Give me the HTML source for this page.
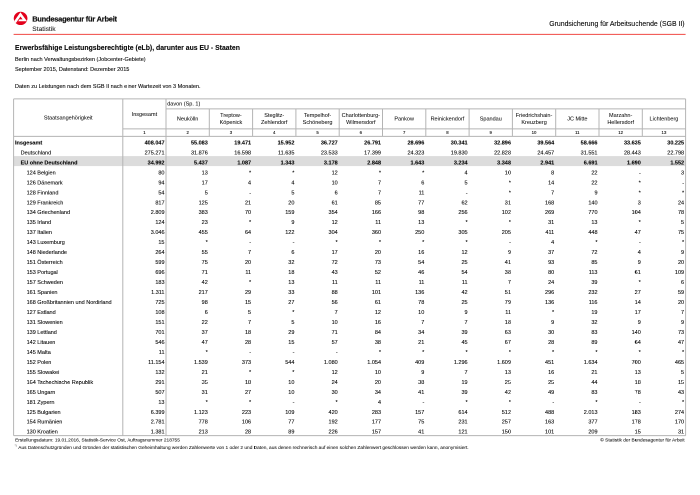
<!DOCTYPE html>
<html lang="de"><head><meta charset="utf-8"><title>Erwerbsfähige Leistungsberechtigte (eLb), darunter aus EU - Staaten</title>
<style>
html,body{margin:0;padding:0;background:#fff;}
body{width:700px;height:495px;position:relative;overflow:hidden;font-family:"Liberation Sans",Arial,sans-serif;color:#0a0a0a;-webkit-text-stroke:0.2px #000;}
.t{position:absolute;white-space:nowrap;line-height:1;margin:0;padding:0;}
.b{font-weight:bold;}
.r{text-align:right;}
.c{text-align:center;}
svg{position:absolute;left:0;top:0;}
#w{position:absolute;left:0;top:0;width:1400px;height:990px;will-change:transform;transform-origin:0 0;transform:scale(0.5);}
</style></head><body><div id="w">
<svg width="1400" height="990" viewBox="0 0 700 495">
<defs><clipPath id="cc"><ellipse cx="20.6" cy="18.4" rx="6.85" ry="6.65"/></clipPath></defs>
<ellipse cx="20.6" cy="18.4" rx="6.85" ry="6.65" fill="#e3001b"/>
<g clip-path="url(#cc)">
<polygon points="20.4,12.3 27.0,21.3 18.1,21.3 16.4,23.8 12.3,23.8" fill="#fff"/>
<polygon points="20.5,16.5 22.6,19.4 19.47,19.4 16.4,23.8 15.4,23.8" fill="#e3001b"/>
</g>
<line x1="13.6" y1="34.4" x2="685.6" y2="34.4" stroke="#f04844" stroke-width="0.95"/>
<rect x="13.6" y="156.1" width="672.0" height="10.0" fill="#dcdcdc"/>
<line x1="13.60" y1="98.90" x2="685.60" y2="98.90" stroke="#b4b4b4" stroke-width="1.0"/>
<line x1="13.60" y1="435.60" x2="685.60" y2="435.60" stroke="#b4b4b4" stroke-width="1.0"/>
<line x1="13.60" y1="98.90" x2="13.60" y2="435.60" stroke="#b4b4b4" stroke-width="1.0"/>
<line x1="685.60" y1="98.90" x2="685.60" y2="435.60" stroke="#b4b4b4" stroke-width="1.0"/>
<line x1="122.80" y1="98.90" x2="122.80" y2="435.60" stroke="#b4b4b4" stroke-width="1.0"/>
<line x1="166.00" y1="98.90" x2="166.00" y2="435.60" stroke="#b4b4b4" stroke-width="1.0"/>
<line x1="166.00" y1="108.90" x2="685.60" y2="108.90" stroke="#b4b4b4" stroke-width="1.0"/>
<line x1="122.80" y1="128.90" x2="685.60" y2="128.90" stroke="#b4b4b4" stroke-width="1.0"/>
<line x1="13.60" y1="136.40" x2="685.60" y2="136.40" stroke="#b4b4b4" stroke-width="1.0"/>
<line x1="209.30" y1="108.90" x2="209.30" y2="136.40" stroke="#b4b4b4" stroke-width="1.0"/>
<line x1="252.60" y1="108.90" x2="252.60" y2="136.40" stroke="#b4b4b4" stroke-width="1.0"/>
<line x1="295.90" y1="108.90" x2="295.90" y2="136.40" stroke="#b4b4b4" stroke-width="1.0"/>
<line x1="339.20" y1="108.90" x2="339.20" y2="136.40" stroke="#b4b4b4" stroke-width="1.0"/>
<line x1="382.50" y1="108.90" x2="382.50" y2="136.40" stroke="#b4b4b4" stroke-width="1.0"/>
<line x1="425.80" y1="108.90" x2="425.80" y2="136.40" stroke="#b4b4b4" stroke-width="1.0"/>
<line x1="469.10" y1="108.90" x2="469.10" y2="136.40" stroke="#b4b4b4" stroke-width="1.0"/>
<line x1="512.40" y1="108.90" x2="512.40" y2="136.40" stroke="#b4b4b4" stroke-width="1.0"/>
<line x1="555.70" y1="108.90" x2="555.70" y2="136.40" stroke="#b4b4b4" stroke-width="1.0"/>
<line x1="599.00" y1="108.90" x2="599.00" y2="136.40" stroke="#b4b4b4" stroke-width="1.0"/>
<line x1="642.30" y1="108.90" x2="642.30" y2="136.40" stroke="#b4b4b4" stroke-width="1.0"/>
</svg>
<div class="t b" style="top:31px;font-size:14.9px;left:64.40px;letter-spacing:-0.440px;color:#111;-webkit-text-stroke:0.4px #111;">Bundesagentur für Arbeit</div>
<div class="t " style="top:51px;font-size:13.3px;left:64.60px;color:#333;">Statistik</div>
<div class="t " style="top:41px;font-size:13.8px;left:969.20px;width:400.00px;text-align:right;">Grundsicherung für Arbeitsuchende (SGB II)</div>
<div class="t b" style="top:89px;font-size:13.72px;left:30.00px;">Erwerbsfähige Leistungsberechtigte (eLb), darunter aus EU - Staaten</div>
<div class="t " style="top:113px;font-size:11.04px;left:30.00px;">Berlin nach Verwaltungsbezirken (Jobcenter-Gebiete)</div>
<div class="t " style="top:133px;font-size:11.04px;left:30.00px;">September 2015, Datenstand: Dezember 2015</div>
<div class="t " style="top:167px;font-size:11.04px;left:30.00px;">Daten zu Leistungen nach dem SGB II nach einer Wartezeit von 3 Monaten.</div>
<div class="t " style="top:230px;font-size:11.04px;left:36.40px;width:200.00px;text-align:center;-webkit-text-stroke:0.08px #000;">Staatsangehörigkeit</div>
<div class="t " style="top:223px;font-size:11.04px;left:245.80px;width:86.00px;text-align:center;-webkit-text-stroke:0.08px #000;">Insgesamt</div>
<div class="t " style="top:202px;font-size:11.04px;left:334.40px;-webkit-text-stroke:0.08px #000;">davon (Sp. 1)</div>
<div class="t " style="top:261px;font-size:8.6px;left:268.80px;width:40.00px;text-align:center;-webkit-text-stroke:0.2px #000;">1</div>
<div class="t " style="top:232px;font-size:11.04px;left:332.00px;width:86.60px;text-align:center;-webkit-text-stroke:0.08px #000;">Neukölln</div>
<div class="t " style="top:261px;font-size:8.6px;left:355.30px;width:40.00px;text-align:center;-webkit-text-stroke:0.2px #000;">2</div>
<div class="t " style="top:225px;font-size:11.04px;left:414.60px;width:94.60px;text-align:center;-webkit-text-stroke:0.08px #000;">Treptow-</div>
<div class="t " style="top:239px;font-size:11.04px;left:414.60px;width:94.60px;text-align:center;-webkit-text-stroke:0.08px #000;">Köpenick</div>
<div class="t " style="top:261px;font-size:8.6px;left:441.90px;width:40.00px;text-align:center;-webkit-text-stroke:0.2px #000;">3</div>
<div class="t " style="top:225px;font-size:11.04px;left:501.20px;width:94.60px;text-align:center;-webkit-text-stroke:0.08px #000;">Steglitz-</div>
<div class="t " style="top:239px;font-size:11.04px;left:501.20px;width:94.60px;text-align:center;-webkit-text-stroke:0.08px #000;">Zehlendorf</div>
<div class="t " style="top:261px;font-size:8.6px;left:528.50px;width:40.00px;text-align:center;-webkit-text-stroke:0.2px #000;">4</div>
<div class="t " style="top:225px;font-size:11.04px;left:587.80px;width:94.60px;text-align:center;-webkit-text-stroke:0.08px #000;">Tempelhof-</div>
<div class="t " style="top:239px;font-size:11.04px;left:587.80px;width:94.60px;text-align:center;-webkit-text-stroke:0.08px #000;">Schöneberg</div>
<div class="t " style="top:261px;font-size:8.6px;left:615.10px;width:40.00px;text-align:center;-webkit-text-stroke:0.2px #000;">5</div>
<div class="t " style="top:225px;font-size:11.04px;left:674.40px;width:94.60px;text-align:center;-webkit-text-stroke:0.08px #000;">Charlottenburg-</div>
<div class="t " style="top:239px;font-size:11.04px;left:674.40px;width:94.60px;text-align:center;-webkit-text-stroke:0.08px #000;">Wilmersdorf</div>
<div class="t " style="top:261px;font-size:8.6px;left:701.70px;width:40.00px;text-align:center;-webkit-text-stroke:0.2px #000;">6</div>
<div class="t " style="top:232px;font-size:11.04px;left:765.00px;width:86.60px;text-align:center;-webkit-text-stroke:0.08px #000;">Pankow</div>
<div class="t " style="top:261px;font-size:8.6px;left:788.30px;width:40.00px;text-align:center;-webkit-text-stroke:0.2px #000;">7</div>
<div class="t " style="top:232px;font-size:11.04px;left:851.60px;width:86.60px;text-align:center;-webkit-text-stroke:0.08px #000;">Reinickendorf</div>
<div class="t " style="top:261px;font-size:8.6px;left:874.90px;width:40.00px;text-align:center;-webkit-text-stroke:0.2px #000;">8</div>
<div class="t " style="top:232px;font-size:11.04px;left:938.20px;width:86.60px;text-align:center;-webkit-text-stroke:0.08px #000;">Spandau</div>
<div class="t " style="top:261px;font-size:8.6px;left:961.50px;width:40.00px;text-align:center;-webkit-text-stroke:0.2px #000;">9</div>
<div class="t " style="top:225px;font-size:11.04px;left:1020.80px;width:94.60px;text-align:center;-webkit-text-stroke:0.08px #000;">Friedrichshain-</div>
<div class="t " style="top:239px;font-size:11.04px;left:1020.80px;width:94.60px;text-align:center;-webkit-text-stroke:0.08px #000;">Kreuzberg</div>
<div class="t " style="top:261px;font-size:8.6px;left:1048.10px;width:40.00px;text-align:center;-webkit-text-stroke:0.2px #000;">10</div>
<div class="t " style="top:232px;font-size:11.04px;left:1111.40px;width:86.60px;text-align:center;-webkit-text-stroke:0.08px #000;">JC Mitte</div>
<div class="t " style="top:261px;font-size:8.6px;left:1134.70px;width:40.00px;text-align:center;-webkit-text-stroke:0.2px #000;">11</div>
<div class="t " style="top:225px;font-size:11.04px;left:1194.00px;width:94.60px;text-align:center;-webkit-text-stroke:0.08px #000;">Marzahn-</div>
<div class="t " style="top:239px;font-size:11.04px;left:1194.00px;width:94.60px;text-align:center;-webkit-text-stroke:0.08px #000;">Hellersdorf</div>
<div class="t " style="top:261px;font-size:8.6px;left:1221.30px;width:40.00px;text-align:center;-webkit-text-stroke:0.2px #000;">12</div>
<div class="t " style="top:232px;font-size:11.04px;left:1284.60px;width:86.60px;text-align:center;-webkit-text-stroke:0.08px #000;">Lichtenberg</div>
<div class="t " style="top:261px;font-size:8.6px;left:1307.90px;width:40.00px;text-align:center;-webkit-text-stroke:0.2px #000;">13</div>
<div class="t b" style="top:280px;font-size:11.0px;left:30.00px;">Insgesamt</div>
<div class="t b" style="top:280px;font-size:11.0px;left:249.00px;width:80.00px;text-align:right;">408.047</div>
<div class="t b" style="top:280px;font-size:11.0px;left:335.60px;width:80.00px;text-align:right;">55.083</div>
<div class="t b" style="top:280px;font-size:11.0px;left:422.20px;width:80.00px;text-align:right;">19.471</div>
<div class="t b" style="top:280px;font-size:11.0px;left:508.80px;width:80.00px;text-align:right;">15.952</div>
<div class="t b" style="top:280px;font-size:11.0px;left:595.40px;width:80.00px;text-align:right;">36.727</div>
<div class="t b" style="top:280px;font-size:11.0px;left:682.00px;width:80.00px;text-align:right;">26.791</div>
<div class="t b" style="top:280px;font-size:11.0px;left:768.60px;width:80.00px;text-align:right;">28.696</div>
<div class="t b" style="top:280px;font-size:11.0px;left:855.20px;width:80.00px;text-align:right;">30.341</div>
<div class="t b" style="top:280px;font-size:11.0px;left:941.80px;width:80.00px;text-align:right;">32.896</div>
<div class="t b" style="top:280px;font-size:11.0px;left:1028.40px;width:80.00px;text-align:right;">39.564</div>
<div class="t b" style="top:280px;font-size:11.0px;left:1115.00px;width:80.00px;text-align:right;">58.666</div>
<div class="t b" style="top:280px;font-size:11.0px;left:1201.60px;width:80.00px;text-align:right;">33.635</div>
<div class="t b" style="top:280px;font-size:11.0px;left:1288.20px;width:80.00px;text-align:right;">30.225</div>
<div class="t " style="top:300px;font-size:11.0px;left:41.20px;">Deutschland</div>
<div class="t " style="top:300px;font-size:11.0px;left:249.00px;width:80.00px;text-align:right;">275.271</div>
<div class="t " style="top:300px;font-size:11.0px;left:335.60px;width:80.00px;text-align:right;">31.876</div>
<div class="t " style="top:300px;font-size:11.0px;left:422.20px;width:80.00px;text-align:right;">16.598</div>
<div class="t " style="top:300px;font-size:11.0px;left:508.80px;width:80.00px;text-align:right;">11.635</div>
<div class="t " style="top:300px;font-size:11.0px;left:595.40px;width:80.00px;text-align:right;">23.533</div>
<div class="t " style="top:300px;font-size:11.0px;left:682.00px;width:80.00px;text-align:right;">17.399</div>
<div class="t " style="top:300px;font-size:11.0px;left:768.60px;width:80.00px;text-align:right;">24.323</div>
<div class="t " style="top:300px;font-size:11.0px;left:855.20px;width:80.00px;text-align:right;">19.830</div>
<div class="t " style="top:300px;font-size:11.0px;left:941.80px;width:80.00px;text-align:right;">22.828</div>
<div class="t " style="top:300px;font-size:11.0px;left:1028.40px;width:80.00px;text-align:right;">24.457</div>
<div class="t " style="top:300px;font-size:11.0px;left:1115.00px;width:80.00px;text-align:right;">31.551</div>
<div class="t " style="top:300px;font-size:11.0px;left:1201.60px;width:80.00px;text-align:right;">28.443</div>
<div class="t " style="top:300px;font-size:11.0px;left:1288.20px;width:80.00px;text-align:right;">22.798</div>
<div class="t b" style="top:320px;font-size:11.0px;left:41.20px;">EU ohne Deutschland</div>
<div class="t b" style="top:320px;font-size:11.0px;left:249.00px;width:80.00px;text-align:right;">34.992</div>
<div class="t b" style="top:320px;font-size:11.0px;left:335.60px;width:80.00px;text-align:right;">5.437</div>
<div class="t b" style="top:320px;font-size:11.0px;left:422.20px;width:80.00px;text-align:right;">1.087</div>
<div class="t b" style="top:320px;font-size:11.0px;left:508.80px;width:80.00px;text-align:right;">1.343</div>
<div class="t b" style="top:320px;font-size:11.0px;left:595.40px;width:80.00px;text-align:right;">3.178</div>
<div class="t b" style="top:320px;font-size:11.0px;left:682.00px;width:80.00px;text-align:right;">2.848</div>
<div class="t b" style="top:320px;font-size:11.0px;left:768.60px;width:80.00px;text-align:right;">1.643</div>
<div class="t b" style="top:320px;font-size:11.0px;left:855.20px;width:80.00px;text-align:right;">3.234</div>
<div class="t b" style="top:320px;font-size:11.0px;left:941.80px;width:80.00px;text-align:right;">3.348</div>
<div class="t b" style="top:320px;font-size:11.0px;left:1028.40px;width:80.00px;text-align:right;">2.941</div>
<div class="t b" style="top:320px;font-size:11.0px;left:1115.00px;width:80.00px;text-align:right;">6.691</div>
<div class="t b" style="top:320px;font-size:11.0px;left:1201.60px;width:80.00px;text-align:right;">1.690</div>
<div class="t b" style="top:320px;font-size:11.0px;left:1288.20px;width:80.00px;text-align:right;">1.552</div>
<div class="t " style="top:340px;font-size:11.0px;left:53.20px;">124 Belgien</div>
<div class="t " style="top:340px;font-size:11.0px;left:249.00px;width:80.00px;text-align:right;">80</div>
<div class="t " style="top:340px;font-size:11.0px;left:335.60px;width:80.00px;text-align:right;">13</div>
<div class="t " style="top:340px;font-size:11.0px;left:422.20px;width:80.00px;text-align:right;">*</div>
<div class="t " style="top:340px;font-size:11.0px;left:508.80px;width:80.00px;text-align:right;">*</div>
<div class="t " style="top:340px;font-size:11.0px;left:595.40px;width:80.00px;text-align:right;">12</div>
<div class="t " style="top:340px;font-size:11.0px;left:682.00px;width:80.00px;text-align:right;">*</div>
<div class="t " style="top:340px;font-size:11.0px;left:768.60px;width:80.00px;text-align:right;">*</div>
<div class="t " style="top:340px;font-size:11.0px;left:855.20px;width:80.00px;text-align:right;">4</div>
<div class="t " style="top:340px;font-size:11.0px;left:941.80px;width:80.00px;text-align:right;">10</div>
<div class="t " style="top:340px;font-size:11.0px;left:1028.40px;width:80.00px;text-align:right;">8</div>
<div class="t " style="top:340px;font-size:11.0px;left:1115.00px;width:80.00px;text-align:right;">22</div>
<div class="t " style="top:340px;font-size:11.0px;left:1201.60px;width:80.00px;text-align:right;">-</div>
<div class="t " style="top:340px;font-size:11.0px;left:1288.20px;width:80.00px;text-align:right;">3</div>
<div class="t " style="top:360px;font-size:11.0px;left:53.20px;">126 Dänemark</div>
<div class="t " style="top:360px;font-size:11.0px;left:249.00px;width:80.00px;text-align:right;">94</div>
<div class="t " style="top:360px;font-size:11.0px;left:335.60px;width:80.00px;text-align:right;">17</div>
<div class="t " style="top:360px;font-size:11.0px;left:422.20px;width:80.00px;text-align:right;">4</div>
<div class="t " style="top:360px;font-size:11.0px;left:508.80px;width:80.00px;text-align:right;">4</div>
<div class="t " style="top:360px;font-size:11.0px;left:595.40px;width:80.00px;text-align:right;">10</div>
<div class="t " style="top:360px;font-size:11.0px;left:682.00px;width:80.00px;text-align:right;">7</div>
<div class="t " style="top:360px;font-size:11.0px;left:768.60px;width:80.00px;text-align:right;">6</div>
<div class="t " style="top:360px;font-size:11.0px;left:855.20px;width:80.00px;text-align:right;">5</div>
<div class="t " style="top:360px;font-size:11.0px;left:941.80px;width:80.00px;text-align:right;">*</div>
<div class="t " style="top:360px;font-size:11.0px;left:1028.40px;width:80.00px;text-align:right;">14</div>
<div class="t " style="top:360px;font-size:11.0px;left:1115.00px;width:80.00px;text-align:right;">22</div>
<div class="t " style="top:360px;font-size:11.0px;left:1201.60px;width:80.00px;text-align:right;">*</div>
<div class="t " style="top:360px;font-size:11.0px;left:1288.20px;width:80.00px;text-align:right;">-</div>
<div class="t " style="top:380px;font-size:11.0px;left:53.20px;">128 Finnland</div>
<div class="t " style="top:380px;font-size:11.0px;left:249.00px;width:80.00px;text-align:right;">54</div>
<div class="t " style="top:380px;font-size:11.0px;left:335.60px;width:80.00px;text-align:right;">5</div>
<div class="t " style="top:380px;font-size:11.0px;left:422.20px;width:80.00px;text-align:right;">-</div>
<div class="t " style="top:380px;font-size:11.0px;left:508.80px;width:80.00px;text-align:right;">5</div>
<div class="t " style="top:380px;font-size:11.0px;left:595.40px;width:80.00px;text-align:right;">6</div>
<div class="t " style="top:380px;font-size:11.0px;left:682.00px;width:80.00px;text-align:right;">7</div>
<div class="t " style="top:380px;font-size:11.0px;left:768.60px;width:80.00px;text-align:right;">11</div>
<div class="t " style="top:380px;font-size:11.0px;left:855.20px;width:80.00px;text-align:right;">-</div>
<div class="t " style="top:380px;font-size:11.0px;left:941.80px;width:80.00px;text-align:right;">*</div>
<div class="t " style="top:380px;font-size:11.0px;left:1028.40px;width:80.00px;text-align:right;">7</div>
<div class="t " style="top:380px;font-size:11.0px;left:1115.00px;width:80.00px;text-align:right;">9</div>
<div class="t " style="top:380px;font-size:11.0px;left:1201.60px;width:80.00px;text-align:right;">*</div>
<div class="t " style="top:380px;font-size:11.0px;left:1288.20px;width:80.00px;text-align:right;">*</div>
<div class="t " style="top:400px;font-size:11.0px;left:53.20px;">129 Frankreich</div>
<div class="t " style="top:400px;font-size:11.0px;left:249.00px;width:80.00px;text-align:right;">817</div>
<div class="t " style="top:400px;font-size:11.0px;left:335.60px;width:80.00px;text-align:right;">125</div>
<div class="t " style="top:400px;font-size:11.0px;left:422.20px;width:80.00px;text-align:right;">21</div>
<div class="t " style="top:400px;font-size:11.0px;left:508.80px;width:80.00px;text-align:right;">20</div>
<div class="t " style="top:400px;font-size:11.0px;left:595.40px;width:80.00px;text-align:right;">61</div>
<div class="t " style="top:400px;font-size:11.0px;left:682.00px;width:80.00px;text-align:right;">85</div>
<div class="t " style="top:400px;font-size:11.0px;left:768.60px;width:80.00px;text-align:right;">77</div>
<div class="t " style="top:400px;font-size:11.0px;left:855.20px;width:80.00px;text-align:right;">62</div>
<div class="t " style="top:400px;font-size:11.0px;left:941.80px;width:80.00px;text-align:right;">31</div>
<div class="t " style="top:400px;font-size:11.0px;left:1028.40px;width:80.00px;text-align:right;">168</div>
<div class="t " style="top:400px;font-size:11.0px;left:1115.00px;width:80.00px;text-align:right;">140</div>
<div class="t " style="top:400px;font-size:11.0px;left:1201.60px;width:80.00px;text-align:right;">3</div>
<div class="t " style="top:400px;font-size:11.0px;left:1288.20px;width:80.00px;text-align:right;">24</div>
<div class="t " style="top:419px;font-size:11.0px;left:53.20px;">134 Griechenland</div>
<div class="t " style="top:419px;font-size:11.0px;left:249.00px;width:80.00px;text-align:right;">2.809</div>
<div class="t " style="top:419px;font-size:11.0px;left:335.60px;width:80.00px;text-align:right;">383</div>
<div class="t " style="top:419px;font-size:11.0px;left:422.20px;width:80.00px;text-align:right;">70</div>
<div class="t " style="top:419px;font-size:11.0px;left:508.80px;width:80.00px;text-align:right;">159</div>
<div class="t " style="top:419px;font-size:11.0px;left:595.40px;width:80.00px;text-align:right;">354</div>
<div class="t " style="top:419px;font-size:11.0px;left:682.00px;width:80.00px;text-align:right;">166</div>
<div class="t " style="top:419px;font-size:11.0px;left:768.60px;width:80.00px;text-align:right;">98</div>
<div class="t " style="top:419px;font-size:11.0px;left:855.20px;width:80.00px;text-align:right;">256</div>
<div class="t " style="top:419px;font-size:11.0px;left:941.80px;width:80.00px;text-align:right;">102</div>
<div class="t " style="top:419px;font-size:11.0px;left:1028.40px;width:80.00px;text-align:right;">269</div>
<div class="t " style="top:419px;font-size:11.0px;left:1115.00px;width:80.00px;text-align:right;">770</div>
<div class="t " style="top:419px;font-size:11.0px;left:1201.60px;width:80.00px;text-align:right;">104</div>
<div class="t " style="top:419px;font-size:11.0px;left:1288.20px;width:80.00px;text-align:right;">78</div>
<div class="t " style="top:439px;font-size:11.0px;left:53.20px;">135 Irland</div>
<div class="t " style="top:439px;font-size:11.0px;left:249.00px;width:80.00px;text-align:right;">124</div>
<div class="t " style="top:439px;font-size:11.0px;left:335.60px;width:80.00px;text-align:right;">23</div>
<div class="t " style="top:439px;font-size:11.0px;left:422.20px;width:80.00px;text-align:right;">*</div>
<div class="t " style="top:439px;font-size:11.0px;left:508.80px;width:80.00px;text-align:right;">9</div>
<div class="t " style="top:439px;font-size:11.0px;left:595.40px;width:80.00px;text-align:right;">12</div>
<div class="t " style="top:439px;font-size:11.0px;left:682.00px;width:80.00px;text-align:right;">11</div>
<div class="t " style="top:439px;font-size:11.0px;left:768.60px;width:80.00px;text-align:right;">13</div>
<div class="t " style="top:439px;font-size:11.0px;left:855.20px;width:80.00px;text-align:right;">*</div>
<div class="t " style="top:439px;font-size:11.0px;left:941.80px;width:80.00px;text-align:right;">*</div>
<div class="t " style="top:439px;font-size:11.0px;left:1028.40px;width:80.00px;text-align:right;">31</div>
<div class="t " style="top:439px;font-size:11.0px;left:1115.00px;width:80.00px;text-align:right;">13</div>
<div class="t " style="top:439px;font-size:11.0px;left:1201.60px;width:80.00px;text-align:right;">*</div>
<div class="t " style="top:439px;font-size:11.0px;left:1288.20px;width:80.00px;text-align:right;">5</div>
<div class="t " style="top:459px;font-size:11.0px;left:53.20px;">137 Italien</div>
<div class="t " style="top:459px;font-size:11.0px;left:249.00px;width:80.00px;text-align:right;">3.046</div>
<div class="t " style="top:459px;font-size:11.0px;left:335.60px;width:80.00px;text-align:right;">455</div>
<div class="t " style="top:459px;font-size:11.0px;left:422.20px;width:80.00px;text-align:right;">64</div>
<div class="t " style="top:459px;font-size:11.0px;left:508.80px;width:80.00px;text-align:right;">122</div>
<div class="t " style="top:459px;font-size:11.0px;left:595.40px;width:80.00px;text-align:right;">304</div>
<div class="t " style="top:459px;font-size:11.0px;left:682.00px;width:80.00px;text-align:right;">360</div>
<div class="t " style="top:459px;font-size:11.0px;left:768.60px;width:80.00px;text-align:right;">250</div>
<div class="t " style="top:459px;font-size:11.0px;left:855.20px;width:80.00px;text-align:right;">305</div>
<div class="t " style="top:459px;font-size:11.0px;left:941.80px;width:80.00px;text-align:right;">205</div>
<div class="t " style="top:459px;font-size:11.0px;left:1028.40px;width:80.00px;text-align:right;">411</div>
<div class="t " style="top:459px;font-size:11.0px;left:1115.00px;width:80.00px;text-align:right;">448</div>
<div class="t " style="top:459px;font-size:11.0px;left:1201.60px;width:80.00px;text-align:right;">47</div>
<div class="t " style="top:459px;font-size:11.0px;left:1288.20px;width:80.00px;text-align:right;">75</div>
<div class="t " style="top:479px;font-size:11.0px;left:53.20px;">143 Luxemburg</div>
<div class="t " style="top:479px;font-size:11.0px;left:249.00px;width:80.00px;text-align:right;">15</div>
<div class="t " style="top:479px;font-size:11.0px;left:335.60px;width:80.00px;text-align:right;">*</div>
<div class="t " style="top:479px;font-size:11.0px;left:422.20px;width:80.00px;text-align:right;">-</div>
<div class="t " style="top:479px;font-size:11.0px;left:508.80px;width:80.00px;text-align:right;">-</div>
<div class="t " style="top:479px;font-size:11.0px;left:595.40px;width:80.00px;text-align:right;">*</div>
<div class="t " style="top:479px;font-size:11.0px;left:682.00px;width:80.00px;text-align:right;">*</div>
<div class="t " style="top:479px;font-size:11.0px;left:768.60px;width:80.00px;text-align:right;">*</div>
<div class="t " style="top:479px;font-size:11.0px;left:855.20px;width:80.00px;text-align:right;">*</div>
<div class="t " style="top:479px;font-size:11.0px;left:941.80px;width:80.00px;text-align:right;">-</div>
<div class="t " style="top:479px;font-size:11.0px;left:1028.40px;width:80.00px;text-align:right;">4</div>
<div class="t " style="top:479px;font-size:11.0px;left:1115.00px;width:80.00px;text-align:right;">*</div>
<div class="t " style="top:479px;font-size:11.0px;left:1201.60px;width:80.00px;text-align:right;">-</div>
<div class="t " style="top:479px;font-size:11.0px;left:1288.20px;width:80.00px;text-align:right;">*</div>
<div class="t " style="top:499px;font-size:11.0px;left:53.20px;">148 Niederlande</div>
<div class="t " style="top:499px;font-size:11.0px;left:249.00px;width:80.00px;text-align:right;">264</div>
<div class="t " style="top:499px;font-size:11.0px;left:335.60px;width:80.00px;text-align:right;">55</div>
<div class="t " style="top:499px;font-size:11.0px;left:422.20px;width:80.00px;text-align:right;">7</div>
<div class="t " style="top:499px;font-size:11.0px;left:508.80px;width:80.00px;text-align:right;">6</div>
<div class="t " style="top:499px;font-size:11.0px;left:595.40px;width:80.00px;text-align:right;">17</div>
<div class="t " style="top:499px;font-size:11.0px;left:682.00px;width:80.00px;text-align:right;">20</div>
<div class="t " style="top:499px;font-size:11.0px;left:768.60px;width:80.00px;text-align:right;">16</div>
<div class="t " style="top:499px;font-size:11.0px;left:855.20px;width:80.00px;text-align:right;">12</div>
<div class="t " style="top:499px;font-size:11.0px;left:941.80px;width:80.00px;text-align:right;">9</div>
<div class="t " style="top:499px;font-size:11.0px;left:1028.40px;width:80.00px;text-align:right;">37</div>
<div class="t " style="top:499px;font-size:11.0px;left:1115.00px;width:80.00px;text-align:right;">72</div>
<div class="t " style="top:499px;font-size:11.0px;left:1201.60px;width:80.00px;text-align:right;">4</div>
<div class="t " style="top:499px;font-size:11.0px;left:1288.20px;width:80.00px;text-align:right;">9</div>
<div class="t " style="top:519px;font-size:11.0px;left:53.20px;">151 Österreich</div>
<div class="t " style="top:519px;font-size:11.0px;left:249.00px;width:80.00px;text-align:right;">599</div>
<div class="t " style="top:519px;font-size:11.0px;left:335.60px;width:80.00px;text-align:right;">75</div>
<div class="t " style="top:519px;font-size:11.0px;left:422.20px;width:80.00px;text-align:right;">20</div>
<div class="t " style="top:519px;font-size:11.0px;left:508.80px;width:80.00px;text-align:right;">32</div>
<div class="t " style="top:519px;font-size:11.0px;left:595.40px;width:80.00px;text-align:right;">72</div>
<div class="t " style="top:519px;font-size:11.0px;left:682.00px;width:80.00px;text-align:right;">73</div>
<div class="t " style="top:519px;font-size:11.0px;left:768.60px;width:80.00px;text-align:right;">54</div>
<div class="t " style="top:519px;font-size:11.0px;left:855.20px;width:80.00px;text-align:right;">25</div>
<div class="t " style="top:519px;font-size:11.0px;left:941.80px;width:80.00px;text-align:right;">41</div>
<div class="t " style="top:519px;font-size:11.0px;left:1028.40px;width:80.00px;text-align:right;">93</div>
<div class="t " style="top:519px;font-size:11.0px;left:1115.00px;width:80.00px;text-align:right;">85</div>
<div class="t " style="top:519px;font-size:11.0px;left:1201.60px;width:80.00px;text-align:right;">9</div>
<div class="t " style="top:519px;font-size:11.0px;left:1288.20px;width:80.00px;text-align:right;">20</div>
<div class="t " style="top:539px;font-size:11.0px;left:53.20px;">153 Portugal</div>
<div class="t " style="top:539px;font-size:11.0px;left:249.00px;width:80.00px;text-align:right;">696</div>
<div class="t " style="top:539px;font-size:11.0px;left:335.60px;width:80.00px;text-align:right;">71</div>
<div class="t " style="top:539px;font-size:11.0px;left:422.20px;width:80.00px;text-align:right;">11</div>
<div class="t " style="top:539px;font-size:11.0px;left:508.80px;width:80.00px;text-align:right;">18</div>
<div class="t " style="top:539px;font-size:11.0px;left:595.40px;width:80.00px;text-align:right;">43</div>
<div class="t " style="top:539px;font-size:11.0px;left:682.00px;width:80.00px;text-align:right;">52</div>
<div class="t " style="top:539px;font-size:11.0px;left:768.60px;width:80.00px;text-align:right;">46</div>
<div class="t " style="top:539px;font-size:11.0px;left:855.20px;width:80.00px;text-align:right;">54</div>
<div class="t " style="top:539px;font-size:11.0px;left:941.80px;width:80.00px;text-align:right;">38</div>
<div class="t " style="top:539px;font-size:11.0px;left:1028.40px;width:80.00px;text-align:right;">80</div>
<div class="t " style="top:539px;font-size:11.0px;left:1115.00px;width:80.00px;text-align:right;">113</div>
<div class="t " style="top:539px;font-size:11.0px;left:1201.60px;width:80.00px;text-align:right;">61</div>
<div class="t " style="top:539px;font-size:11.0px;left:1288.20px;width:80.00px;text-align:right;">109</div>
<div class="t " style="top:559px;font-size:11.0px;left:53.20px;">157 Schweden</div>
<div class="t " style="top:559px;font-size:11.0px;left:249.00px;width:80.00px;text-align:right;">183</div>
<div class="t " style="top:559px;font-size:11.0px;left:335.60px;width:80.00px;text-align:right;">42</div>
<div class="t " style="top:559px;font-size:11.0px;left:422.20px;width:80.00px;text-align:right;">*</div>
<div class="t " style="top:559px;font-size:11.0px;left:508.80px;width:80.00px;text-align:right;">13</div>
<div class="t " style="top:559px;font-size:11.0px;left:595.40px;width:80.00px;text-align:right;">11</div>
<div class="t " style="top:559px;font-size:11.0px;left:682.00px;width:80.00px;text-align:right;">11</div>
<div class="t " style="top:559px;font-size:11.0px;left:768.60px;width:80.00px;text-align:right;">11</div>
<div class="t " style="top:559px;font-size:11.0px;left:855.20px;width:80.00px;text-align:right;">11</div>
<div class="t " style="top:559px;font-size:11.0px;left:941.80px;width:80.00px;text-align:right;">7</div>
<div class="t " style="top:559px;font-size:11.0px;left:1028.40px;width:80.00px;text-align:right;">24</div>
<div class="t " style="top:559px;font-size:11.0px;left:1115.00px;width:80.00px;text-align:right;">39</div>
<div class="t " style="top:559px;font-size:11.0px;left:1201.60px;width:80.00px;text-align:right;">*</div>
<div class="t " style="top:559px;font-size:11.0px;left:1288.20px;width:80.00px;text-align:right;">6</div>
<div class="t " style="top:579px;font-size:11.0px;left:53.20px;">161 Spanien</div>
<div class="t " style="top:579px;font-size:11.0px;left:249.00px;width:80.00px;text-align:right;">1.311</div>
<div class="t " style="top:579px;font-size:11.0px;left:335.60px;width:80.00px;text-align:right;">217</div>
<div class="t " style="top:579px;font-size:11.0px;left:422.20px;width:80.00px;text-align:right;">29</div>
<div class="t " style="top:579px;font-size:11.0px;left:508.80px;width:80.00px;text-align:right;">33</div>
<div class="t " style="top:579px;font-size:11.0px;left:595.40px;width:80.00px;text-align:right;">88</div>
<div class="t " style="top:579px;font-size:11.0px;left:682.00px;width:80.00px;text-align:right;">101</div>
<div class="t " style="top:579px;font-size:11.0px;left:768.60px;width:80.00px;text-align:right;">136</div>
<div class="t " style="top:579px;font-size:11.0px;left:855.20px;width:80.00px;text-align:right;">42</div>
<div class="t " style="top:579px;font-size:11.0px;left:941.80px;width:80.00px;text-align:right;">51</div>
<div class="t " style="top:579px;font-size:11.0px;left:1028.40px;width:80.00px;text-align:right;">296</div>
<div class="t " style="top:579px;font-size:11.0px;left:1115.00px;width:80.00px;text-align:right;">232</div>
<div class="t " style="top:579px;font-size:11.0px;left:1201.60px;width:80.00px;text-align:right;">27</div>
<div class="t " style="top:579px;font-size:11.0px;left:1288.20px;width:80.00px;text-align:right;">59</div>
<div class="t " style="top:599px;font-size:11.0px;left:53.20px;">168 Großbritannien und Nordirland</div>
<div class="t " style="top:599px;font-size:11.0px;left:249.00px;width:80.00px;text-align:right;">725</div>
<div class="t " style="top:599px;font-size:11.0px;left:335.60px;width:80.00px;text-align:right;">98</div>
<div class="t " style="top:599px;font-size:11.0px;left:422.20px;width:80.00px;text-align:right;">15</div>
<div class="t " style="top:599px;font-size:11.0px;left:508.80px;width:80.00px;text-align:right;">27</div>
<div class="t " style="top:599px;font-size:11.0px;left:595.40px;width:80.00px;text-align:right;">56</div>
<div class="t " style="top:599px;font-size:11.0px;left:682.00px;width:80.00px;text-align:right;">61</div>
<div class="t " style="top:599px;font-size:11.0px;left:768.60px;width:80.00px;text-align:right;">78</div>
<div class="t " style="top:599px;font-size:11.0px;left:855.20px;width:80.00px;text-align:right;">25</div>
<div class="t " style="top:599px;font-size:11.0px;left:941.80px;width:80.00px;text-align:right;">79</div>
<div class="t " style="top:599px;font-size:11.0px;left:1028.40px;width:80.00px;text-align:right;">136</div>
<div class="t " style="top:599px;font-size:11.0px;left:1115.00px;width:80.00px;text-align:right;">116</div>
<div class="t " style="top:599px;font-size:11.0px;left:1201.60px;width:80.00px;text-align:right;">14</div>
<div class="t " style="top:599px;font-size:11.0px;left:1288.20px;width:80.00px;text-align:right;">20</div>
<div class="t " style="top:619px;font-size:11.0px;left:53.20px;">127 Estland</div>
<div class="t " style="top:619px;font-size:11.0px;left:249.00px;width:80.00px;text-align:right;">108</div>
<div class="t " style="top:619px;font-size:11.0px;left:335.60px;width:80.00px;text-align:right;">6</div>
<div class="t " style="top:619px;font-size:11.0px;left:422.20px;width:80.00px;text-align:right;">5</div>
<div class="t " style="top:619px;font-size:11.0px;left:508.80px;width:80.00px;text-align:right;">*</div>
<div class="t " style="top:619px;font-size:11.0px;left:595.40px;width:80.00px;text-align:right;">7</div>
<div class="t " style="top:619px;font-size:11.0px;left:682.00px;width:80.00px;text-align:right;">12</div>
<div class="t " style="top:619px;font-size:11.0px;left:768.60px;width:80.00px;text-align:right;">10</div>
<div class="t " style="top:619px;font-size:11.0px;left:855.20px;width:80.00px;text-align:right;">9</div>
<div class="t " style="top:619px;font-size:11.0px;left:941.80px;width:80.00px;text-align:right;">11</div>
<div class="t " style="top:619px;font-size:11.0px;left:1028.40px;width:80.00px;text-align:right;">*</div>
<div class="t " style="top:619px;font-size:11.0px;left:1115.00px;width:80.00px;text-align:right;">19</div>
<div class="t " style="top:619px;font-size:11.0px;left:1201.60px;width:80.00px;text-align:right;">17</div>
<div class="t " style="top:619px;font-size:11.0px;left:1288.20px;width:80.00px;text-align:right;">7</div>
<div class="t " style="top:639px;font-size:11.0px;left:53.20px;">131 Slowenien</div>
<div class="t " style="top:639px;font-size:11.0px;left:249.00px;width:80.00px;text-align:right;">151</div>
<div class="t " style="top:639px;font-size:11.0px;left:335.60px;width:80.00px;text-align:right;">22</div>
<div class="t " style="top:639px;font-size:11.0px;left:422.20px;width:80.00px;text-align:right;">7</div>
<div class="t " style="top:639px;font-size:11.0px;left:508.80px;width:80.00px;text-align:right;">5</div>
<div class="t " style="top:639px;font-size:11.0px;left:595.40px;width:80.00px;text-align:right;">10</div>
<div class="t " style="top:639px;font-size:11.0px;left:682.00px;width:80.00px;text-align:right;">16</div>
<div class="t " style="top:639px;font-size:11.0px;left:768.60px;width:80.00px;text-align:right;">7</div>
<div class="t " style="top:639px;font-size:11.0px;left:855.20px;width:80.00px;text-align:right;">7</div>
<div class="t " style="top:639px;font-size:11.0px;left:941.80px;width:80.00px;text-align:right;">18</div>
<div class="t " style="top:639px;font-size:11.0px;left:1028.40px;width:80.00px;text-align:right;">9</div>
<div class="t " style="top:639px;font-size:11.0px;left:1115.00px;width:80.00px;text-align:right;">32</div>
<div class="t " style="top:639px;font-size:11.0px;left:1201.60px;width:80.00px;text-align:right;">9</div>
<div class="t " style="top:639px;font-size:11.0px;left:1288.20px;width:80.00px;text-align:right;">9</div>
<div class="t " style="top:659px;font-size:11.0px;left:53.20px;">139 Lettland</div>
<div class="t " style="top:659px;font-size:11.0px;left:249.00px;width:80.00px;text-align:right;">701</div>
<div class="t " style="top:659px;font-size:11.0px;left:335.60px;width:80.00px;text-align:right;">37</div>
<div class="t " style="top:659px;font-size:11.0px;left:422.20px;width:80.00px;text-align:right;">18</div>
<div class="t " style="top:659px;font-size:11.0px;left:508.80px;width:80.00px;text-align:right;">29</div>
<div class="t " style="top:659px;font-size:11.0px;left:595.40px;width:80.00px;text-align:right;">71</div>
<div class="t " style="top:659px;font-size:11.0px;left:682.00px;width:80.00px;text-align:right;">84</div>
<div class="t " style="top:659px;font-size:11.0px;left:768.60px;width:80.00px;text-align:right;">34</div>
<div class="t " style="top:659px;font-size:11.0px;left:855.20px;width:80.00px;text-align:right;">39</div>
<div class="t " style="top:659px;font-size:11.0px;left:941.80px;width:80.00px;text-align:right;">63</div>
<div class="t " style="top:659px;font-size:11.0px;left:1028.40px;width:80.00px;text-align:right;">30</div>
<div class="t " style="top:659px;font-size:11.0px;left:1115.00px;width:80.00px;text-align:right;">83</div>
<div class="t " style="top:659px;font-size:11.0px;left:1201.60px;width:80.00px;text-align:right;">140</div>
<div class="t " style="top:659px;font-size:11.0px;left:1288.20px;width:80.00px;text-align:right;">73</div>
<div class="t " style="top:679px;font-size:11.0px;left:53.20px;">142 Litauen</div>
<div class="t " style="top:679px;font-size:11.0px;left:249.00px;width:80.00px;text-align:right;">546</div>
<div class="t " style="top:679px;font-size:11.0px;left:335.60px;width:80.00px;text-align:right;">47</div>
<div class="t " style="top:679px;font-size:11.0px;left:422.20px;width:80.00px;text-align:right;">28</div>
<div class="t " style="top:679px;font-size:11.0px;left:508.80px;width:80.00px;text-align:right;">15</div>
<div class="t " style="top:679px;font-size:11.0px;left:595.40px;width:80.00px;text-align:right;">57</div>
<div class="t " style="top:679px;font-size:11.0px;left:682.00px;width:80.00px;text-align:right;">38</div>
<div class="t " style="top:679px;font-size:11.0px;left:768.60px;width:80.00px;text-align:right;">21</div>
<div class="t " style="top:679px;font-size:11.0px;left:855.20px;width:80.00px;text-align:right;">45</div>
<div class="t " style="top:679px;font-size:11.0px;left:941.80px;width:80.00px;text-align:right;">67</div>
<div class="t " style="top:679px;font-size:11.0px;left:1028.40px;width:80.00px;text-align:right;">28</div>
<div class="t " style="top:679px;font-size:11.0px;left:1115.00px;width:80.00px;text-align:right;">89</div>
<div class="t " style="top:679px;font-size:11.0px;left:1201.60px;width:80.00px;text-align:right;">64</div>
<div class="t " style="top:679px;font-size:11.0px;left:1288.20px;width:80.00px;text-align:right;">47</div>
<div class="t " style="top:699px;font-size:11.0px;left:53.20px;">145 Malta</div>
<div class="t " style="top:699px;font-size:11.0px;left:249.00px;width:80.00px;text-align:right;">11</div>
<div class="t " style="top:699px;font-size:11.0px;left:335.60px;width:80.00px;text-align:right;">*</div>
<div class="t " style="top:699px;font-size:11.0px;left:422.20px;width:80.00px;text-align:right;">-</div>
<div class="t " style="top:699px;font-size:11.0px;left:508.80px;width:80.00px;text-align:right;">-</div>
<div class="t " style="top:699px;font-size:11.0px;left:595.40px;width:80.00px;text-align:right;">-</div>
<div class="t " style="top:699px;font-size:11.0px;left:682.00px;width:80.00px;text-align:right;">*</div>
<div class="t " style="top:699px;font-size:11.0px;left:768.60px;width:80.00px;text-align:right;">*</div>
<div class="t " style="top:699px;font-size:11.0px;left:855.20px;width:80.00px;text-align:right;">*</div>
<div class="t " style="top:699px;font-size:11.0px;left:941.80px;width:80.00px;text-align:right;">*</div>
<div class="t " style="top:699px;font-size:11.0px;left:1028.40px;width:80.00px;text-align:right;">*</div>
<div class="t " style="top:699px;font-size:11.0px;left:1115.00px;width:80.00px;text-align:right;">*</div>
<div class="t " style="top:699px;font-size:11.0px;left:1201.60px;width:80.00px;text-align:right;">*</div>
<div class="t " style="top:699px;font-size:11.0px;left:1288.20px;width:80.00px;text-align:right;">*</div>
<div class="t " style="top:719px;font-size:11.0px;left:53.20px;">152 Polen</div>
<div class="t " style="top:719px;font-size:11.0px;left:249.00px;width:80.00px;text-align:right;">11.154</div>
<div class="t " style="top:719px;font-size:11.0px;left:335.60px;width:80.00px;text-align:right;">1.539</div>
<div class="t " style="top:719px;font-size:11.0px;left:422.20px;width:80.00px;text-align:right;">373</div>
<div class="t " style="top:719px;font-size:11.0px;left:508.80px;width:80.00px;text-align:right;">544</div>
<div class="t " style="top:719px;font-size:11.0px;left:595.40px;width:80.00px;text-align:right;">1.080</div>
<div class="t " style="top:719px;font-size:11.0px;left:682.00px;width:80.00px;text-align:right;">1.054</div>
<div class="t " style="top:719px;font-size:11.0px;left:768.60px;width:80.00px;text-align:right;">409</div>
<div class="t " style="top:719px;font-size:11.0px;left:855.20px;width:80.00px;text-align:right;">1.296</div>
<div class="t " style="top:719px;font-size:11.0px;left:941.80px;width:80.00px;text-align:right;">1.609</div>
<div class="t " style="top:719px;font-size:11.0px;left:1028.40px;width:80.00px;text-align:right;">451</div>
<div class="t " style="top:719px;font-size:11.0px;left:1115.00px;width:80.00px;text-align:right;">1.634</div>
<div class="t " style="top:719px;font-size:11.0px;left:1201.60px;width:80.00px;text-align:right;">700</div>
<div class="t " style="top:719px;font-size:11.0px;left:1288.20px;width:80.00px;text-align:right;">465</div>
<div class="t " style="top:739px;font-size:11.0px;left:53.20px;">155 Slowakei</div>
<div class="t " style="top:739px;font-size:11.0px;left:249.00px;width:80.00px;text-align:right;">132</div>
<div class="t " style="top:739px;font-size:11.0px;left:335.60px;width:80.00px;text-align:right;">21</div>
<div class="t " style="top:739px;font-size:11.0px;left:422.20px;width:80.00px;text-align:right;">*</div>
<div class="t " style="top:739px;font-size:11.0px;left:508.80px;width:80.00px;text-align:right;">*</div>
<div class="t " style="top:739px;font-size:11.0px;left:595.40px;width:80.00px;text-align:right;">12</div>
<div class="t " style="top:739px;font-size:11.0px;left:682.00px;width:80.00px;text-align:right;">10</div>
<div class="t " style="top:739px;font-size:11.0px;left:768.60px;width:80.00px;text-align:right;">9</div>
<div class="t " style="top:739px;font-size:11.0px;left:855.20px;width:80.00px;text-align:right;">7</div>
<div class="t " style="top:739px;font-size:11.0px;left:941.80px;width:80.00px;text-align:right;">13</div>
<div class="t " style="top:739px;font-size:11.0px;left:1028.40px;width:80.00px;text-align:right;">16</div>
<div class="t " style="top:739px;font-size:11.0px;left:1115.00px;width:80.00px;text-align:right;">21</div>
<div class="t " style="top:739px;font-size:11.0px;left:1201.60px;width:80.00px;text-align:right;">13</div>
<div class="t " style="top:739px;font-size:11.0px;left:1288.20px;width:80.00px;text-align:right;">5</div>
<div class="t " style="top:759px;font-size:11.0px;left:53.20px;">164 Tschechische Republik</div>
<div class="t " style="top:759px;font-size:11.0px;left:249.00px;width:80.00px;text-align:right;">291</div>
<div class="t " style="top:759px;font-size:11.0px;left:335.60px;width:80.00px;text-align:right;">35</div>
<div class="t " style="top:759px;font-size:11.0px;left:422.20px;width:80.00px;text-align:right;">18</div>
<div class="t " style="top:759px;font-size:11.0px;left:508.80px;width:80.00px;text-align:right;">10</div>
<div class="t " style="top:759px;font-size:11.0px;left:595.40px;width:80.00px;text-align:right;">24</div>
<div class="t " style="top:759px;font-size:11.0px;left:682.00px;width:80.00px;text-align:right;">20</div>
<div class="t " style="top:759px;font-size:11.0px;left:768.60px;width:80.00px;text-align:right;">38</div>
<div class="t " style="top:759px;font-size:11.0px;left:855.20px;width:80.00px;text-align:right;">19</div>
<div class="t " style="top:759px;font-size:11.0px;left:941.80px;width:80.00px;text-align:right;">25</div>
<div class="t " style="top:759px;font-size:11.0px;left:1028.40px;width:80.00px;text-align:right;">25</div>
<div class="t " style="top:759px;font-size:11.0px;left:1115.00px;width:80.00px;text-align:right;">44</div>
<div class="t " style="top:759px;font-size:11.0px;left:1201.60px;width:80.00px;text-align:right;">18</div>
<div class="t " style="top:759px;font-size:11.0px;left:1288.20px;width:80.00px;text-align:right;">15</div>
<div class="t " style="top:779px;font-size:11.0px;left:53.20px;">165 Ungarn</div>
<div class="t " style="top:779px;font-size:11.0px;left:249.00px;width:80.00px;text-align:right;">507</div>
<div class="t " style="top:779px;font-size:11.0px;left:335.60px;width:80.00px;text-align:right;">31</div>
<div class="t " style="top:779px;font-size:11.0px;left:422.20px;width:80.00px;text-align:right;">27</div>
<div class="t " style="top:779px;font-size:11.0px;left:508.80px;width:80.00px;text-align:right;">10</div>
<div class="t " style="top:779px;font-size:11.0px;left:595.40px;width:80.00px;text-align:right;">30</div>
<div class="t " style="top:779px;font-size:11.0px;left:682.00px;width:80.00px;text-align:right;">34</div>
<div class="t " style="top:779px;font-size:11.0px;left:768.60px;width:80.00px;text-align:right;">41</div>
<div class="t " style="top:779px;font-size:11.0px;left:855.20px;width:80.00px;text-align:right;">39</div>
<div class="t " style="top:779px;font-size:11.0px;left:941.80px;width:80.00px;text-align:right;">42</div>
<div class="t " style="top:779px;font-size:11.0px;left:1028.40px;width:80.00px;text-align:right;">49</div>
<div class="t " style="top:779px;font-size:11.0px;left:1115.00px;width:80.00px;text-align:right;">83</div>
<div class="t " style="top:779px;font-size:11.0px;left:1201.60px;width:80.00px;text-align:right;">78</div>
<div class="t " style="top:779px;font-size:11.0px;left:1288.20px;width:80.00px;text-align:right;">43</div>
<div class="t " style="top:799px;font-size:11.0px;left:53.20px;">181 Zypern</div>
<div class="t " style="top:799px;font-size:11.0px;left:249.00px;width:80.00px;text-align:right;">13</div>
<div class="t " style="top:799px;font-size:11.0px;left:335.60px;width:80.00px;text-align:right;">*</div>
<div class="t " style="top:799px;font-size:11.0px;left:422.20px;width:80.00px;text-align:right;">*</div>
<div class="t " style="top:799px;font-size:11.0px;left:508.80px;width:80.00px;text-align:right;">-</div>
<div class="t " style="top:799px;font-size:11.0px;left:595.40px;width:80.00px;text-align:right;">*</div>
<div class="t " style="top:799px;font-size:11.0px;left:682.00px;width:80.00px;text-align:right;">4</div>
<div class="t " style="top:799px;font-size:11.0px;left:768.60px;width:80.00px;text-align:right;">-</div>
<div class="t " style="top:799px;font-size:11.0px;left:855.20px;width:80.00px;text-align:right;">*</div>
<div class="t " style="top:799px;font-size:11.0px;left:941.80px;width:80.00px;text-align:right;">*</div>
<div class="t " style="top:799px;font-size:11.0px;left:1028.40px;width:80.00px;text-align:right;">-</div>
<div class="t " style="top:799px;font-size:11.0px;left:1115.00px;width:80.00px;text-align:right;">*</div>
<div class="t " style="top:799px;font-size:11.0px;left:1201.60px;width:80.00px;text-align:right;">-</div>
<div class="t " style="top:799px;font-size:11.0px;left:1288.20px;width:80.00px;text-align:right;">*</div>
<div class="t " style="top:819px;font-size:11.0px;left:53.20px;">125 Bulgarien</div>
<div class="t " style="top:819px;font-size:11.0px;left:249.00px;width:80.00px;text-align:right;">6.399</div>
<div class="t " style="top:819px;font-size:11.0px;left:335.60px;width:80.00px;text-align:right;">1.123</div>
<div class="t " style="top:819px;font-size:11.0px;left:422.20px;width:80.00px;text-align:right;">223</div>
<div class="t " style="top:819px;font-size:11.0px;left:508.80px;width:80.00px;text-align:right;">109</div>
<div class="t " style="top:819px;font-size:11.0px;left:595.40px;width:80.00px;text-align:right;">420</div>
<div class="t " style="top:819px;font-size:11.0px;left:682.00px;width:80.00px;text-align:right;">283</div>
<div class="t " style="top:819px;font-size:11.0px;left:768.60px;width:80.00px;text-align:right;">157</div>
<div class="t " style="top:819px;font-size:11.0px;left:855.20px;width:80.00px;text-align:right;">614</div>
<div class="t " style="top:819px;font-size:11.0px;left:941.80px;width:80.00px;text-align:right;">512</div>
<div class="t " style="top:819px;font-size:11.0px;left:1028.40px;width:80.00px;text-align:right;">488</div>
<div class="t " style="top:819px;font-size:11.0px;left:1115.00px;width:80.00px;text-align:right;">2.013</div>
<div class="t " style="top:819px;font-size:11.0px;left:1201.60px;width:80.00px;text-align:right;">183</div>
<div class="t " style="top:819px;font-size:11.0px;left:1288.20px;width:80.00px;text-align:right;">274</div>
<div class="t " style="top:838px;font-size:11.0px;left:53.20px;">154 Rumänien</div>
<div class="t " style="top:838px;font-size:11.0px;left:249.00px;width:80.00px;text-align:right;">2.781</div>
<div class="t " style="top:838px;font-size:11.0px;left:335.60px;width:80.00px;text-align:right;">778</div>
<div class="t " style="top:838px;font-size:11.0px;left:422.20px;width:80.00px;text-align:right;">106</div>
<div class="t " style="top:838px;font-size:11.0px;left:508.80px;width:80.00px;text-align:right;">77</div>
<div class="t " style="top:838px;font-size:11.0px;left:595.40px;width:80.00px;text-align:right;">192</div>
<div class="t " style="top:838px;font-size:11.0px;left:682.00px;width:80.00px;text-align:right;">177</div>
<div class="t " style="top:838px;font-size:11.0px;left:768.60px;width:80.00px;text-align:right;">75</div>
<div class="t " style="top:838px;font-size:11.0px;left:855.20px;width:80.00px;text-align:right;">231</div>
<div class="t " style="top:838px;font-size:11.0px;left:941.80px;width:80.00px;text-align:right;">257</div>
<div class="t " style="top:838px;font-size:11.0px;left:1028.40px;width:80.00px;text-align:right;">163</div>
<div class="t " style="top:838px;font-size:11.0px;left:1115.00px;width:80.00px;text-align:right;">377</div>
<div class="t " style="top:838px;font-size:11.0px;left:1201.60px;width:80.00px;text-align:right;">178</div>
<div class="t " style="top:838px;font-size:11.0px;left:1288.20px;width:80.00px;text-align:right;">170</div>
<div class="t " style="top:858px;font-size:11.0px;left:53.20px;">130 Kroatien</div>
<div class="t " style="top:858px;font-size:11.0px;left:249.00px;width:80.00px;text-align:right;">1.381</div>
<div class="t " style="top:858px;font-size:11.0px;left:335.60px;width:80.00px;text-align:right;">213</div>
<div class="t " style="top:858px;font-size:11.0px;left:422.20px;width:80.00px;text-align:right;">28</div>
<div class="t " style="top:858px;font-size:11.0px;left:508.80px;width:80.00px;text-align:right;">89</div>
<div class="t " style="top:858px;font-size:11.0px;left:595.40px;width:80.00px;text-align:right;">226</div>
<div class="t " style="top:858px;font-size:11.0px;left:682.00px;width:80.00px;text-align:right;">157</div>
<div class="t " style="top:858px;font-size:11.0px;left:768.60px;width:80.00px;text-align:right;">41</div>
<div class="t " style="top:858px;font-size:11.0px;left:855.20px;width:80.00px;text-align:right;">121</div>
<div class="t " style="top:858px;font-size:11.0px;left:941.80px;width:80.00px;text-align:right;">150</div>
<div class="t " style="top:858px;font-size:11.0px;left:1028.40px;width:80.00px;text-align:right;">101</div>
<div class="t " style="top:858px;font-size:11.0px;left:1115.00px;width:80.00px;text-align:right;">209</div>
<div class="t " style="top:858px;font-size:11.0px;left:1201.60px;width:80.00px;text-align:right;">15</div>
<div class="t " style="top:858px;font-size:11.0px;left:1288.20px;width:80.00px;text-align:right;">31</div>
<div class="t " style="top:875px;font-size:9.6px;left:30.20px;-webkit-text-stroke:0.1px #000;color:#111;">Erstellungsdatum: 19.01.2016, Statistik-Service Ost, Auftragsnummer 218755</div>
<div class="t " style="top:875px;font-size:9.6px;left:969.20px;width:400.00px;text-align:right;-webkit-text-stroke:0.1px #000;color:#111;">© Statistik der Bundesagentur für Arbeit</div>
<div class="t " style="top:888px;font-size:6.0px;left:29.20px;-webkit-text-stroke:0;color:#444;">*)</div>
<div class="t " style="top:890px;font-size:9.566px;left:36.60px;-webkit-text-stroke:0.1px #000;color:#111;">Aus Datenschutzgründen und Gründen der statistischen Geheimhaltung werden Zahlenwerte von 1 oder 2 und Daten, aus denen rechnerisch auf einen solchen Zahlenwert geschlossen werden kann, anonymisiert.</div>
</div></body></html>
